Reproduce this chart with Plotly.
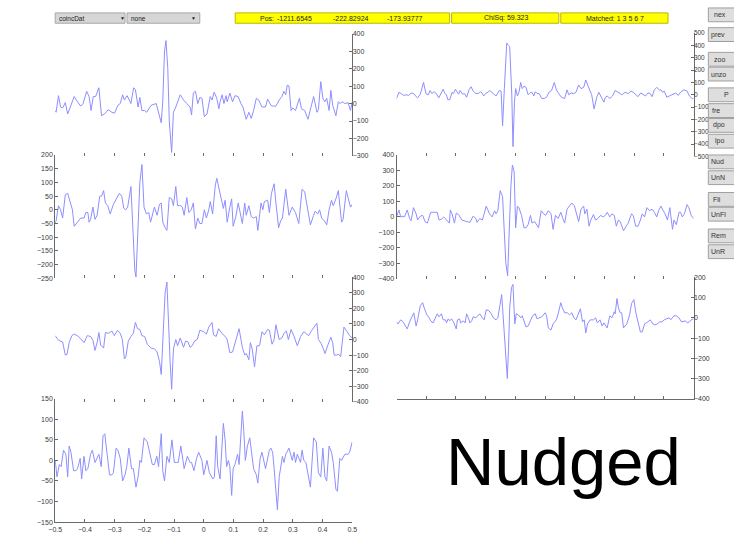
import plotly.graph_objects as go

W, H = 734, 534

# ---- waveform data: (time, amplitude) ----
p1 = [(-0.500,-40),(-0.497,-50),(-0.489,45),(-0.482,-20),(-0.475,-25),(-0.466,5),(-0.458,-60),(-0.447,-10),(-0.436,40),(-0.425,10),(-0.414,-15),(-0.406,0),(-0.394,70),(-0.386,40),(-0.379,-40),(-0.372,40),(-0.364,40),(-0.353,90),(-0.344,-70),(-0.331,-55),(-0.322,-35),(-0.309,-50),(-0.300,-55),(-0.289,-10),(-0.281,0),(-0.273,50),(-0.267,20),(-0.258,45),(-0.245,0),(-0.236,90),(-0.230,80),(-0.221,-20),(-0.215,35),(-0.208,-40),(-0.199,-40),(-0.192,-50),(-0.177,-10),(-0.160,0),(-0.152,-50),(-0.143,-110),(-0.138,10),(-0.132,300),(-0.127,360),(-0.121,200),(-0.116,-100),(-0.108,-280),(-0.102,-50),(-0.094,-20),(-0.079,50),(-0.068,20),(-0.057,0),(-0.046,-20),(-0.041,-65),(-0.035,60),(-0.028,70),(-0.020,0),(-0.013,35),(-0.006,30),(0.002,-75),(0.011,-60),(0.022,40),(0.028,20),(0.035,65),(0.044,30),(0.051,-30),(0.055,10),(0.062,50),(0.068,0),(0.075,45),(0.079,10),(0.088,60),(0.097,10),(0.105,45),(0.116,40),(0.125,0),(0.132,-20),(0.143,-90),(0.152,-50),(0.160,-85),(0.168,-40),(0.177,30),(0.185,20),(0.196,-20),(0.208,-20),(0.215,25),(0.226,-10),(0.234,-15),(0.243,-15),(0.254,20),(0.263,40),(0.270,70),(0.276,50),(0.281,105),(0.287,100),(0.294,-40),(0.300,-25),(0.309,-40),(0.322,30),(0.329,-30),(0.340,-40),(0.351,-90),(0.359,-30),(0.370,40),(0.381,-50),(0.386,-35),(0.394,125),(0.401,30),(0.408,10),(0.414,30),(0.422,-40),(0.428,75),(0.434,-10),(0.445,-70),(0.453,10),(0.459,0),(0.466,10),(0.475,0),(0.486,5),(0.494,-40),(0.500,10)]

p2 = [(-0.500,-50),(-0.497,-40),(-0.489,15),(-0.482,0),(-0.475,-30),(-0.466,55),(-0.458,60),(-0.447,20),(-0.442,0),(-0.436,-60),(-0.425,-45),(-0.414,-30),(-0.403,-30),(-0.397,-10),(-0.390,-10),(-0.386,-45),(-0.381,-35),(-0.373,10),(-0.366,-35),(-0.359,-20),(-0.350,50),(-0.344,50),(-0.337,70),(-0.331,25),(-0.323,15),(-0.315,-15),(-0.304,20),(-0.295,40),(-0.284,60),(-0.276,50),(-0.269,5),(-0.263,0),(-0.256,10),(-0.245,85),(-0.237,-100),(-0.232,-220),(-0.228,-245),(-0.223,-100),(-0.215,100),(-0.208,165),(-0.201,10),(-0.193,-15),(-0.185,-10),(-0.179,-45),(-0.171,-10),(-0.166,10),(-0.157,-20),(-0.149,20),(-0.143,25),(-0.138,-45),(-0.130,-65),(-0.124,-75),(-0.116,45),(-0.108,40),(-0.102,15),(-0.094,85),(-0.088,15),(-0.077,15),(-0.072,10),(-0.066,-20),(-0.057,45),(-0.050,-10),(-0.042,0),(-0.035,25),(-0.028,-70),(-0.020,-30),(-0.013,-50),(-0.006,-50),(0.002,0),(0.009,-30),(0.017,0),(0.022,30),(0.030,-15),(0.039,90),(0.044,115),(0.053,70),(0.061,30),(0.066,5),(0.072,35),(0.079,-45),(0.088,10),(0.094,40),(0.099,-60),(0.108,-25),(0.116,25),(0.124,-25),(0.130,-50),(0.138,25),(0.143,-20),(0.152,15),(0.160,-25),(0.168,-30),(0.177,-25),(0.182,-75),(0.193,25),(0.199,0),(0.204,30),(0.215,35),(0.221,-10),(0.228,60),(0.237,95),(0.243,25),(0.252,-65),(0.259,-40),(0.265,-30),(0.276,75),(0.287,-20),(0.298,10),(0.309,-10),(0.320,-50),(0.331,75),(0.340,65),(0.348,20),(0.353,-10),(0.359,-55),(0.370,-20),(0.375,-5),(0.384,-15),(0.390,0),(0.397,-30),(0.406,-40),(0.414,-55),(0.422,0),(0.430,35),(0.436,15),(0.445,40),(0.453,70),(0.464,-45),(0.469,-35),(0.480,70),(0.486,45),(0.494,10),(0.500,20)]

p3 = [(-0.500,25),(-0.491,0),(-0.483,-10),(-0.475,-15),(-0.466,-100),(-0.460,-95),(-0.453,-20),(-0.444,25),(-0.436,35),(-0.425,25),(-0.414,5),(-0.403,-20),(-0.392,25),(-0.381,20),(-0.373,-5),(-0.366,-70),(-0.359,-20),(-0.353,45),(-0.347,-35),(-0.337,-55),(-0.331,45),(-0.320,40),(-0.309,55),(-0.301,25),(-0.290,60),(-0.281,40),(-0.274,0),(-0.267,-125),(-0.262,-110),(-0.254,-10),(-0.245,20),(-0.237,40),(-0.230,110),(-0.223,70),(-0.215,65),(-0.208,25),(-0.199,20),(-0.190,-30),(-0.177,-55),(-0.166,-60),(-0.157,-80),(-0.149,-140),(-0.143,-225),(-0.135,100),(-0.130,300),(-0.124,370),(-0.119,100),(-0.113,-150),(-0.108,-320),(-0.102,-60),(-0.094,0),(-0.088,-40),(-0.079,10),(-0.068,-50),(-0.061,-10),(-0.053,-15),(-0.046,-50),(-0.039,-40),(-0.031,-10),(-0.022,0),(-0.013,60),(0.000,50),(0.009,35),(0.017,80),(0.028,110),(0.033,30),(0.042,20),(0.050,70),(0.061,40),(0.072,20),(0.079,0),(0.088,-85),(0.097,-80),(0.108,0),(0.119,70),(0.130,-50),(0.138,-100),(0.143,-90),(0.152,-130),(0.157,-20),(0.163,-60),(0.171,-175),(0.179,-40),(0.188,-40),(0.196,50),(0.204,30),(0.215,65),(0.221,60),(0.230,-30),(0.237,0),(0.243,95),(0.254,0),(0.263,10),(0.270,40),(0.278,55),(0.285,0),(0.294,65),(0.304,20),(0.315,-40),(0.326,20),(0.337,50),(0.344,40),(0.353,25),(0.364,60),(0.381,105),(0.386,0),(0.395,-25),(0.403,-60),(0.408,-90),(0.419,-30),(0.428,15),(0.434,-20),(0.439,-100),(0.447,-100),(0.455,-95),(0.461,-110),(0.472,80),(0.483,50),(0.491,25),(0.500,10)]

p4 = [(-0.500,0),(-0.494,-40),(-0.486,-10),(-0.480,-15),(-0.472,25),(-0.464,15),(-0.458,-40),(-0.453,35),(-0.447,20),(-0.438,-25),(-0.430,-25),(-0.425,-20),(-0.416,5),(-0.411,-45),(-0.403,10),(-0.397,-25),(-0.390,-20),(-0.381,15),(-0.375,25),(-0.366,-5),(-0.353,15),(-0.345,-15),(-0.339,60),(-0.333,65),(-0.326,20),(-0.317,-35),(-0.309,-35),(-0.304,-30),(-0.295,30),(-0.289,25),(-0.281,5),(-0.273,-50),(-0.265,-35),(-0.259,-15),(-0.252,30),(-0.243,-20),(-0.237,-20),(-0.228,-65),(-0.221,-40),(-0.215,0),(-0.210,-5),(-0.201,55),(-0.190,45),(-0.180,15),(-0.173,-10),(-0.166,-10),(-0.158,10),(-0.152,-15),(-0.143,65),(-0.138,-25),(-0.132,-50),(-0.124,10),(-0.116,-5),(-0.107,50),(-0.099,-5),(-0.091,-5),(-0.086,-5),(-0.077,35),(-0.066,-20),(-0.055,10),(-0.046,-5),(-0.041,-5),(-0.033,-25),(-0.024,5),(-0.017,20),(-0.006,0),(0.000,-35),(0.011,0),(0.019,-30),(0.031,-45),(0.036,-40),(0.042,60),(0.047,-15),(0.055,-45),(0.061,50),(0.066,90),(0.072,50),(0.077,-15),(0.083,0),(0.088,-15),(0.094,-85),(0.099,-20),(0.105,-10),(0.114,15),(0.119,-10),(0.126,85),(0.130,120),(0.135,70),(0.140,0),(0.147,35),(0.155,55),(0.161,20),(0.168,-20),(0.177,-35),(0.182,-55),(0.190,5),(0.196,20),(0.208,-20),(0.215,5),(0.221,25),(0.226,30),(0.232,20),(0.237,-20),(0.243,-70),(0.248,-120),(0.254,-40),(0.265,10),(0.270,-5),(0.276,15),(0.287,30),(0.298,0),(0.304,20),(0.309,-5),(0.315,15),(0.326,-5),(0.331,25),(0.337,0),(0.344,-5),(0.353,-45),(0.359,-65),(0.370,55),(0.379,45),(0.386,-30),(0.394,-40),(0.401,30),(0.408,-40),(0.414,-50),(0.422,35),(0.430,20),(0.436,-5),(0.445,-70),(0.450,-75),(0.458,5),(0.464,0),(0.475,15),(0.486,15),(0.491,20),(0.500,45)]

p5 = [(-0.500,-30),(-0.492,20),(-0.484,10),(-0.476,-5),(-0.467,0),(-0.459,-5),(-0.451,15),(-0.442,10),(-0.434,-15),(-0.429,-25),(-0.420,5),(-0.409,100),(-0.401,10),(-0.393,0),(-0.387,35),(-0.381,10),(-0.374,25),(-0.366,10),(-0.358,-25),(-0.349,20),(-0.343,45),(-0.338,15),(-0.332,0),(-0.327,-40),(-0.321,-40),(-0.313,20),(-0.308,10),(-0.302,45),(-0.297,25),(-0.291,5),(-0.286,35),(-0.278,5),(-0.271,10),(-0.264,-20),(-0.256,40),(-0.249,65),(-0.242,30),(-0.233,10),(-0.225,10),(-0.218,25),(-0.212,15),(-0.207,-10),(-0.198,15),(-0.192,20),(-0.187,35),(-0.181,25),(-0.174,10),(-0.165,-10),(-0.159,10),(-0.154,35),(-0.148,30),(-0.143,-250),(-0.137,50),(-0.132,300),(-0.129,420),(-0.123,400),(-0.119,390),(-0.112,0),(-0.108,-420),(-0.103,-60),(-0.099,50),(-0.093,-10),(-0.088,20),(-0.082,100),(-0.077,50),(-0.071,70),(-0.064,60),(-0.057,0),(-0.049,20),(-0.044,20),(-0.038,-10),(-0.033,25),(-0.027,10),(-0.020,10),(-0.011,-30),(-0.002,-30),(0.005,-20),(0.013,20),(0.022,35),(0.031,100),(0.038,40),(0.046,10),(0.055,-20),(0.066,-30),(0.074,40),(0.080,0),(0.088,15),(0.097,10),(0.104,20),(0.113,80),(0.121,50),(0.130,60),(0.137,120),(0.145,70),(0.152,30),(0.157,0),(0.165,-115),(0.174,-20),(0.181,20),(0.189,-20),(0.198,-60),(0.203,-20),(0.209,-10),(0.218,-30),(0.227,-10),(0.236,35),(0.244,20),(0.253,10),(0.260,0),(0.269,20),(0.280,10),(0.289,30),(0.297,20),(0.305,0),(0.313,-15),(0.322,15),(0.330,0),(0.338,-10),(0.346,15),(0.354,10),(0.360,-15),(0.368,40),(0.376,60),(0.385,40),(0.390,40),(0.396,20),(0.401,30),(0.410,-20),(0.418,-10),(0.429,0),(0.440,15),(0.448,-5),(0.456,20),(0.467,40),(0.478,30),(0.486,-10),(0.495,-30),(0.500,-30)]

p6 = [(-0.500,0),(-0.492,45),(-0.486,0),(-0.478,5),(-0.473,0),(-0.464,45),(-0.456,-10),(-0.451,-25),(-0.443,60),(-0.434,20),(-0.429,-20),(-0.420,5),(-0.412,10),(-0.404,-30),(-0.396,-40),(-0.385,30),(-0.374,30),(-0.363,30),(-0.357,-20),(-0.349,-15),(-0.341,0),(-0.330,-20),(-0.322,-40),(-0.319,45),(-0.313,20),(-0.305,-40),(-0.299,25),(-0.291,15),(-0.280,-20),(-0.264,-30),(-0.253,-35),(-0.242,5),(-0.233,-10),(-0.229,-35),(-0.220,-10),(-0.211,-20),(-0.198,70),(-0.187,20),(-0.178,0),(-0.170,40),(-0.165,20),(-0.159,40),(-0.151,170),(-0.143,130),(-0.137,-100),(-0.132,-300),(-0.126,-380),(-0.121,-100),(-0.115,200),(-0.110,335),(-0.104,290),(-0.099,-70),(-0.093,70),(-0.088,60),(-0.079,10),(-0.071,-70),(-0.064,-70),(-0.057,-50),(-0.049,10),(-0.044,-40),(-0.035,-30),(-0.022,-70),(-0.013,40),(-0.005,20),(0.002,10),(0.011,40),(0.020,20),(0.027,-80),(0.035,10),(0.044,-10),(0.053,30),(0.060,-10),(0.066,-40),(0.074,50),(0.082,70),(0.090,90),(0.099,70),(0.108,0),(0.113,-30),(0.121,50),(0.130,70),(0.134,20),(0.141,50),(0.148,-60),(0.154,-20),(0.163,15),(0.170,-20),(0.178,-10),(0.187,10),(0.196,0),(0.203,10),(0.209,30),(0.218,0),(0.225,20),(0.233,10),(0.240,-60),(0.247,-20),(0.253,-30),(0.264,-90),(0.273,-60),(0.280,-40),(0.291,20),(0.297,10),(0.305,-60),(0.313,-60),(0.321,-20),(0.327,20),(0.335,0),(0.343,60),(0.352,40),(0.360,50),(0.368,30),(0.376,0),(0.382,40),(0.390,70),(0.398,40),(0.404,20),(0.412,-20),(0.420,60),(0.429,-80),(0.434,-20),(0.442,-50),(0.451,30),(0.456,30),(0.462,0),(0.469,20),(0.478,80),(0.484,60),(0.492,10),(0.500,-10)]

p7 = [(-0.500,-20),(-0.495,-30),(-0.486,-10),(-0.478,-20),(-0.470,-40),(-0.464,-55),(-0.456,-20),(-0.448,10),(-0.442,25),(-0.434,-40),(-0.429,-10),(-0.420,60),(-0.412,75),(-0.407,50),(-0.398,15),(-0.390,0),(-0.385,-15),(-0.377,-25),(-0.368,0),(-0.363,20),(-0.357,5),(-0.349,20),(-0.343,-10),(-0.335,-10),(-0.332,-25),(-0.326,-5),(-0.321,-15),(-0.315,-5),(-0.308,-20),(-0.299,-55),(-0.295,-10),(-0.288,-5),(-0.284,-25),(-0.275,-15),(-0.269,-25),(-0.264,20),(-0.258,0),(-0.253,-25),(-0.247,-15),(-0.242,5),(-0.233,0),(-0.225,10),(-0.220,20),(-0.211,0),(-0.205,-10),(-0.198,40),(-0.189,35),(-0.181,20),(-0.174,0),(-0.165,-10),(-0.159,0),(-0.152,60),(-0.146,115),(-0.143,50),(-0.137,-100),(-0.132,-200),(-0.127,-300),(-0.123,-150),(-0.119,50),(-0.113,150),(-0.108,165),(-0.102,-30),(-0.097,20),(-0.090,15),(-0.082,0),(-0.077,10),(-0.071,-20),(-0.064,-45),(-0.057,-40),(-0.049,-10),(-0.042,10),(-0.033,20),(-0.027,-5),(-0.020,0),(-0.011,5),(0.000,25),(0.005,10),(0.011,-50),(0.020,-60),(0.027,-30),(0.038,-10),(0.044,20),(0.053,75),(0.058,50),(0.066,25),(0.075,25),(0.082,15),(0.090,25),(0.097,0),(0.104,-10),(0.110,10),(0.119,45),(0.126,-20),(0.132,-10),(0.137,-75),(0.143,-30),(0.152,-10),(0.163,-10),(0.170,0),(0.176,-25),(0.185,-10),(0.192,-40),(0.198,-25),(0.209,-50),(0.218,10),(0.225,0),(0.233,30),(0.236,20),(0.242,95),(0.247,50),(0.253,25),(0.258,25),(0.264,-50),(0.269,-40),(0.275,-30),(0.284,10),(0.291,70),(0.299,90),(0.305,30),(0.313,-20),(0.321,-70),(0.327,-70),(0.335,-30),(0.346,-20),(0.354,-10),(0.363,-30),(0.369,-35),(0.379,-30),(0.385,-20),(0.393,-20),(0.401,-10),(0.409,-5),(0.418,0),(0.423,-10),(0.434,10),(0.442,10),(0.451,0),(0.459,-20),(0.467,-15),(0.473,-15),(0.479,-25),(0.486,-20),(0.492,-10),(0.500,-5)]

x_ticks = [-0.5, -0.4, -0.3, -0.2, -0.1, 0, 0.1, 0.2, 0.3, 0.4, 0.5]
y_ranges = [(-300, 400), (-250, 200), (-400, 400), (-150, 150), (-500, 500), (-400, 400), (-400, 200)]
y_steps = [100, 50, 100, 50, 100, 100, 100]

pos_text = ["Pos:", "-1211.6545", "-222.82924", "-173.93777"]
chisq_text = "ChiSq: 59.323"
matched_text = "Matched: 1 3 5 6 7"
dropdown_texts = ["coincDat", "none"]
button_texts = ["nex", "prev", "zoo", "unzo", "P", "fre", "dpo", "lpo", "Nud", "UnN", "Fli", "UnFl", "Rem", "UnR"]
big_label = "Nudged"

# ---- layout helpers (pixel -> paper) ----
def fx(x):
    return x / W

def fy(y):
    return 1 - y / H

LINE = "#8e8eff"
AXC = "#6a6a6a"
TXT = "#3a3a3a"
FONT = "Liberation Sans"

# panel geometry: x-left, x-right, top px, bottom px, y side, x labels, x line
geom = [
    (49, 351, 30, 154, "right", False, False),
    (49, 351, 153, 278, "left", False, False),
    (49, 351, 277, 403, "right", False, False),
    (49, 351, 400, 525, "left", True, True),
    (396, 698, 29.5, 154.5, "right", False, False),
    (396, 698, 153, 278.5, "left", False, False),
    (396, 698, 277, 400, "right", False, True),
]

panels = [p1, p2, p3, p4, p5, p6, p7]

fig = go.Figure()
layout = dict(
    width=W, height=H,
    margin=dict(l=0, r=0, t=0, b=0),
    paper_bgcolor="white", plot_bgcolor="rgba(0,0,0,0)",
    showlegend=False,
    font=dict(family=FONT, size=7, color=TXT),
)

for i, (pts, g, yr, dt) in enumerate(zip(panels, geom, y_ranges, y_steps)):
    n = i + 1
    xs = [p[0] for p in pts]
    ys = [p[1] for p in pts]
    xa = "x" if n == 1 else f"x{n}"
    ya = "y" if n == 1 else f"y{n}"
    fig.add_trace(go.Scatter(x=xs, y=ys, mode="lines", xaxis=xa, yaxis=ya,
                             line=dict(color=LINE, width=1), hoverinfo="skip"))
    x0, x1, top, bot, side, xlab, xline = g
    xkey = "xaxis" if n == 1 else f"xaxis{n}"
    ykey = "yaxis" if n == 1 else f"yaxis{n}"
    layout[xkey] = dict(
        domain=[fx(x0), fx(x1)], anchor=ya, range=[-0.5, 0.5],
        tickmode="array", tickvals=x_ticks, ticks="inside", ticklen=3,
        tickcolor=AXC, showticklabels=xlab, showgrid=False, zeroline=False,
        showline=xline, linecolor=AXC, linewidth=1,
        tickfont=dict(size=7, color=TXT, family=FONT),
    )
    layout[ykey] = dict(
        domain=[fy(bot), fy(top)], anchor=xa, side=side, range=list(yr),
        tickmode="linear", tick0=yr[0], dtick=dt, ticks="inside", ticklen=3,
        tickcolor=AXC, showgrid=False, zeroline=False,
        showline=True, linecolor=AXC, linewidth=1,
        ticklabelstandoff=-2 if side == "right" else 0,
        tickfont=dict(size=7 if n != 5 else 6.5, color=TXT, family=FONT),
    )

fig.update_layout(**layout)

shapes = []
annots = []

def rect(x0, y0, x1, y1, fill, line, lw=1):
    shapes.append(dict(type="rect", xref="paper", yref="paper",
                       x0=fx(x0), x1=fx(x1), y0=fy(y1), y1=fy(y0),
                       fillcolor=fill, line=dict(color=line, width=lw), layer="above"))

def text(x, y, s, size=7, anchor="left", color="#222222", family=FONT):
    annots.append(dict(xref="paper", yref="paper", x=fx(x), y=fy(y), text=s,
                       showarrow=False, xanchor=anchor, yanchor="middle",
                       font=dict(size=size, color=color, family=family)))

# dropdowns
rect(49, 9, 120, 19.5, "#d6d6d6", "#a8a8a8")
rect(122, 9, 196, 19.5, "#d6d6d6", "#a8a8a8")
text(51, 14.5, dropdown_texts[0], size=6.5)
text(124, 14.5, dropdown_texts[1], size=6.5)
text(117, 14.5, "▼", size=5, anchor="center")
text(190, 14.5, "▼", size=5, anchor="center")

# yellow status boxes
rect(232, 9, 450, 19.5, "#ffff00", "#b8b800")
rect(452, 9, 561, 19.5, "#ffff00", "#b8b800")
rect(563, 9, 672, 19.5, "#ffff00", "#b8b800")
text(255, 14.5, pos_text[0], size=7)
text(292, 14.5, pos_text[1], size=7, anchor="center")
text(350, 14.5, pos_text[2], size=7, anchor="center")
text(405, 14.5, pos_text[3], size=7, anchor="center")
text(507, 14.5, chisq_text, size=7, anchor="center")
text(618, 14.5, matched_text, size=7, anchor="center")

# side buttons (cut by the window edge)
btn_y = [11, 31, 56, 71, 92, 108, 123, 139, 160, 176, 198, 213, 235, 251]
btn_x = [717, 714, 717, 714, 727, 715, 716, 718, 714, 714, 716, 714, 714, 714]
for s, yc, xt in zip(button_texts, btn_y, btn_x):
    rect(713, yc - 7, 745, yc + 7, "#dedede", "#a0a0a0")
    text(xt, yc, s, size=7, color="#333333")

# big label
text(566, 464, big_label, size=67, anchor="center", color="#000000")

fig.update_layout(shapes=shapes, annotations=annots)
fig.write_html("out.html")
